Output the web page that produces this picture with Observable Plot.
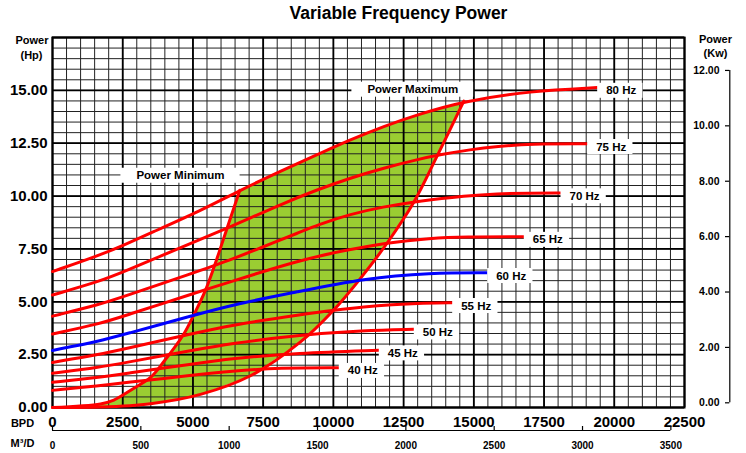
<!DOCTYPE html>
<html><head><meta charset="utf-8">
<script src="https://cdn.jsdelivr.net/npm/d3@7"></script>
<script src="https://cdn.jsdelivr.net/npm/@observablehq/plot@0.6"></script>
<style>
html,body{margin:0;padding:0;background:#fff;overflow:hidden;}
#title{width:746px;height:28px;box-sizing:border-box;padding-left:51px;text-align:center;font:bold 17.5px "Liberation Sans",Arial,sans-serif;line-height:27px;color:#000;}
#chart svg{display:block;}
</style></head><body>
<div id="title">Variable Frequency Power</div>
<div id="chart"></div>
<script>
// ---- ticks / labels ----
const bpdTicks = [0, 2500, 5000, 7500, 10000, 12500, 15000, 17500, 20000, 22500];
const bpdTickLabels = ["0", "2500", "5000", "7500", "10000", "12500", "15000", "17500", "20000", "22500"];
const hpTicks = [0, 2.5, 5, 7.5, 10, 12.5, 15];
const hpTickLabels = ["0.00", "2.50", "5.00", "7.50", "10.00", "12.50", "15.00"];
const kwTicks = [0, 2, 4, 6, 8, 10, 12];
const kwTickLabels = ["0.00", "2.00", "4.00", "6.00", "8.00", "10.00", "12.00"];
const m3Ticks = [0, 500, 1000, 1500, 2000, 2500, 3000, 3500];
const m3TickLabels = ["0", "500", "1000", "1500", "2000", "2500", "3000", "3500"];
const BPD_PER_M3 = 6.28981;

// ---- series (BPD, Hp) ----
const freqLabels = ["80 Hz", "75 Hz", "70 Hz", "65 Hz", "60 Hz", "55 Hz", "50 Hz", "45 Hz", "40 Hz"];
const bpd80 = [0, 1709, 2500, 3489, 5269, 6668, 8234, 9423, 10609, 11795, 12984, 14643, 17017, 19391];
const hp80  = [6.43, 7.22, 7.66, 8.25, 9.30, 10.27, 11.25, 11.96, 12.67, 13.30, 13.85, 14.49, 14.97, 15.13];
const bpd75 = [0, 1709, 2500, 4795, 6219, 8234, 9423, 10609, 11795, 12984, 13813, 14881, 15831, 17017, 19035];
const hp75  = [5.32, 5.98, 6.40, 7.69, 8.48, 9.67, 10.30, 10.86, 11.33, 11.73, 11.96, 12.20, 12.35, 12.47, 12.47];
const bpd70 = [0, 1709, 2500, 5000, 6337, 7405, 8829, 9423, 10609, 11795, 12863, 13457, 14632, 15831, 17000, 18085];
const hp70  = [4.32, 4.88, 5.23, 6.36, 6.98, 7.55, 8.30, 8.63, 9.15, 9.50, 9.72, 9.82, 10.00, 10.12, 10.14, 10.14];
const bpd65 = [0, 1709, 2500, 5000, 6337, 8829, 10372, 11915, 13457, 14643, 16779];
const hp65  = [3.48, 3.97, 4.31, 5.38, 5.95, 6.98, 7.42, 7.80, 8.01, 8.08, 8.08];
const bpd60 = [0, 1709, 2500, 5000, 6337, 8711, 11083, 13457, 15475];
const hp60  = [2.70, 3.15, 3.44, 4.35, 4.84, 5.47, 6.11, 6.37, 6.37];
const bpd55 = [0, 1709, 2500, 5000, 6337, 8711, 11083, 13457, 14229];
const hp55  = [2.13, 2.52, 2.75, 3.50, 3.89, 4.37, 4.80, 4.95, 4.95];
const bpd50 = [0, 1709, 2500, 5000, 6337, 8711, 11083, 12863];
const hp50  = [1.62, 1.91, 2.10, 2.71, 3.02, 3.42, 3.65, 3.70];
const bpd45 = [0, 1709, 2500, 5000, 6337, 8711, 11616];
const hp45  = [1.19, 1.44, 1.59, 2.06, 2.31, 2.58, 2.71];
const bpd40 = [0, 1709, 2500, 5000, 6337, 8117, 10192];
const hp40  = [0.81, 1.04, 1.16, 1.53, 1.72, 1.88, 1.88];
// operating range boundaries
const minBpd = [0, 1709, 2183, 2884, 3489, 3952, 4664, 5020, 5447, 5838, 6230, 6668];
const minHp  = [0, 0.17, 0.35, 0.90, 1.42, 2.15, 3.45, 4.35, 5.55, 6.98, 8.54, 10.27];
const maxBpd = [0, 1709, 3489, 5269, 7049, 8829, 10004, 10965, 11915, 12852, 13695, 14643];
const maxHp  = [0, 0.02, 0.18, 0.62, 1.50, 3.10, 4.60, 6.11, 7.78, 9.68, 11.90, 14.49];
const rangeLabels = ["Power Minimum", "Power Maximum"];
const rangeLabelBpd = [4557, 12826];
const rangeLabelHp = [10.97, 15.04];

// ---- build tables ----
const zip = (xs, ys, extra = {}) => xs.map((x, i) => ({bpd: x, hp: ys[i], ...extra}));
const series = [[bpd80, hp80], [bpd75, hp75], [bpd70, hp70], [bpd65, hp65], [bpd60, hp60],
                [bpd55, hp55], [bpd50, hp50], [bpd45, hp45], [bpd40, hp40]];
const redRows = [], blueRows = [], labelRows = [];
series.forEach(([xs, ys], k) => {
  const rows = zip(xs, ys, {freq: freqLabels[k]});
  (freqLabels[k] === "60 Hz" ? blueRows : redRows).push(...rows);
  labelRows.push(rows[rows.length - 1]);
});
const minRows = zip(minBpd, minHp);
const maxRows = zip(maxBpd, maxHp);
const topEdge = zip(bpd80, hp80).filter(p => p.bpd > minBpd[minBpd.length - 1] && p.bpd < maxBpd[maxBpd.length - 1]);
const poly = [...minRows, ...topEdge, ...maxRows.slice().reverse()];
const rangeRows = rangeLabels.map((t, i) => ({label: t, bpd: rangeLabelBpd[i], hp: rangeLabelHp[i]}));

// ---- layout helpers (secondary axes) ----
const pxPerBpd = 632 / 22500, pxPerHp = 370 / 17.5;
const kwToHp = k => 0.222 + k * 1.31;
const rightAxisX = 22500 + 45.3 / pxPerBpd;
const rightTickX = 22500 + 41 / pxPerBpd;
const m3AxisHp = -23 / pxPerHp;
const m3TickTopHp = -19 / pxPerHp;
const bold = {fontWeight: "bold"};
const centered = {textAnchor: "middle", lineAnchor: "middle"};
const FREQ_CURVE = "basis";
const RANGE_CURVE = "catmull-rom";

const minorX = d3.range(0, 22501, 500);
const minorY = d3.range(0, 17.51, 0.5);
const majorY = d3.range(0, 17.51, 2.5);

const chart = Plot.plot({
  width: 746, height: 425,
  marginTop: 9, marginBottom: 46, marginLeft: 52, marginRight: 62,
  x: {domain: [0, 22500], label: null},
  y: {domain: [0, 17.5], label: null},
  style: {fontFamily: '"Liberation Sans", Arial, sans-serif', background: "#fff", color: "#000"},
  marks: [
    Plot.line(poly, {x: "bpd", y: "hp", fill: "#9acd32", stroke: "none", curve: "linear"}),
    Plot.ruleX(minorX, {stroke: "#222", strokeWidth: 1}),
    Plot.ruleY(minorY, {stroke: "#222", strokeWidth: 1}),
    Plot.ruleX(bpdTicks, {stroke: "#000", strokeWidth: 1.8}),
    Plot.ruleY(majorY, {stroke: "#000", strokeWidth: 1.8}),
    Plot.frame({stroke: "#000", strokeWidth: 2}),
    Plot.axisY(hpTicks, {tickSize: 0, tickPadding: 5, fontSize: 15, ...bold,
      tickFormat: d => hpTickLabels[hpTicks.indexOf(d)]}),
    Plot.axisX(bpdTicks, {tickSize: 0, tickPadding: 9, fontSize: 15, ...bold,
      tickFormat: d => bpdTickLabels[bpdTicks.indexOf(d)]}),
    // M3/D axis
    Plot.ruleY([m3AxisHp], {x1: 0, x2: 3500 * BPD_PER_M3, stroke: "#000", strokeWidth: 1.2}),
    Plot.ruleX(m3Ticks, {x: d => d * BPD_PER_M3, y1: m3AxisHp, y2: m3TickTopHp, stroke: "#000", strokeWidth: 1.2}),
    Plot.text(m3Ticks, {x: d => d * BPD_PER_M3, y: m3AxisHp, dy: 15, text: (d, i) => m3TickLabels[i], fontSize: 10, ...bold}),
    // Kw axis
    Plot.ruleX([rightAxisX], {y1: kwToHp(0), y2: kwToHp(12), stroke: "#000", strokeWidth: 1.2}),
    Plot.ruleY(kwTicks, {y: d => kwToHp(d), x1: rightTickX, x2: rightAxisX, stroke: "#000", strokeWidth: 1.2}),
    Plot.text(kwTicks, {y: d => kwToHp(d), x: rightTickX, dx: -6, textAnchor: "end", text: (d, i) => kwTickLabels[i], fontSize: 10.5, ...bold}),
    // axis titles
    Plot.text(["Power"], {frameAnchor: "top-left", dx: -20.5, dy: 3, fontSize: 11, ...bold, ...centered}),
    Plot.text(["(Hp)"], {frameAnchor: "top-left", dx: -21, dy: 18, fontSize: 11, ...bold, ...centered}),
    Plot.text(["Power"], {frameAnchor: "top-right", dx: 31, dy: 1.5, fontSize: 11, ...bold, ...centered}),
    Plot.text(["(Kw)"], {frameAnchor: "top-right", dx: 31, dy: 15.5, fontSize: 11, ...bold, ...centered}),
    Plot.text(["BPD"], {frameAnchor: "bottom-left", dx: -30, dy: 16, fontSize: 11, ...bold, ...centered}),
    Plot.text(["M³/D"], {frameAnchor: "bottom-left", dx: -30, dy: 36, fontSize: 11, ...bold, ...centered}),
    // curves
    Plot.line(redRows, {x: "bpd", y: "hp", z: "freq", stroke: "#ff0000", strokeWidth: 3, curve: FREQ_CURVE}),
    Plot.line(minRows, {x: "bpd", y: "hp", stroke: "#ff0000", strokeWidth: 3, curve: RANGE_CURVE}),
    Plot.line(maxRows, {x: "bpd", y: "hp", stroke: "#ff0000", strokeWidth: 3, curve: RANGE_CURVE}),
    Plot.line(blueRows, {x: "bpd", y: "hp", stroke: "#0000ff", strokeWidth: 3, curve: FREQ_CURVE}),
    // labels
    Plot.text(labelRows, {x: "bpd", y: "hp", text: "freq", dx: 9, dy: 3, textAnchor: "start", fontSize: 11.5, ...bold}),
    Plot.text(rangeRows, {x: "bpd", y: "hp", text: "label", fontSize: 11.5, ...bold})
  ]
});
document.getElementById("chart").appendChild(chart);

// white boxes behind the curve / range labels
const svgNS = "http://www.w3.org/2000/svg";
const boxRules = [{re: /Hz$/, l: 9, r: 6}, {re: /^Power M/, l: 16, r: 15}];
d3.select(chart).selectAll("text").each(function () {
  const t = this.textContent;
  const rule = boxRules.find(b => b.re.test(t));
  if (!rule) return;
  const bb = this.getBBox();
  const cy = bb.y + bb.height / 2;
  const r = document.createElementNS(svgNS, "rect");
  r.setAttribute("x", bb.x - rule.l);
  r.setAttribute("y", cy - 7.5);
  r.setAttribute("width", bb.width + rule.l + rule.r);
  r.setAttribute("height", 15);
  r.setAttribute("fill", "#fff");
  const tr = this.getAttribute("transform");
  if (tr) r.setAttribute("transform", tr);
  this.parentNode.insertBefore(r, this);
});
</script></body></html>
